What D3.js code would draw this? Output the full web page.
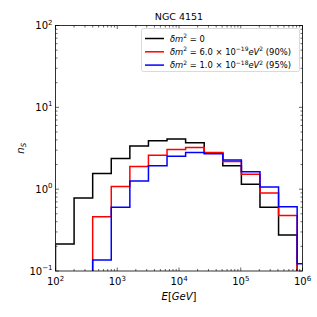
<!DOCTYPE html>
<html><head><meta charset="utf-8">
<script src="https://cdn.jsdelivr.net/npm/d3@7"></script>
<style>body{margin:0;background:#fff}svg{display:block}text{font-family:"DejaVu Sans",sans-serif}</style>
</head><body>
<script>
const binEdges = [100,200,400,800,1600,3200,6400,12800,25600,51200,102400,204800,409600,819200,1638400];
const seriesBlack = [0.214,0.78,1.55,2.37,3.36,3.9,4.1,3.69,2.76,1.93,1.15,0.6,0.275,0.05];
const seriesRed   = [0,0,0.46,1.08,1.89,2.6,3.06,3.23,2.8,2.18,1.52,0.9,0.475,0.06];
const seriesBlue  = [0,0,0.136,0.6,1.26,1.93,2.53,2.8,2.7,2.28,1.63,1.06,0.61,0.123];
const xTickVals = [1e2,1e3,1e4,1e5,1e6];
const xTickExp = ["2","3","4","5","6"];
const yTickVals = [1e-1,1e0,1e1,1e2];
const yTickExp = ["\u22121","0","1","2"];
const seriesColors = ["#000000","#ff0000","#0000ff"];

const W=317,H=317, L=55.5, R=302.5, T=25.5, B=271;
const svg=d3.select("body").append("svg").attr("width",W).attr("height",H);
const x=d3.scaleLog().domain([1e2,1e6]).range([L,R]);
const y=d3.scaleLog().domain([1e-1,1e2]).range([B,T]);

svg.append("clipPath").attr("id","clip").append("rect").attr("x",L).attr("y",T).attr("width",R-L).attr("height",B-T);

function stepPath(vals){
  const yb=B+20;
  const yv=v=> v>0 ? Math.min(y(v),B+20) : yb;
  let p="M"+x(binEdges[0])+","+yb;
  vals.forEach((v,i)=>{
    p+="L"+x(binEdges[i])+","+yv(v)+"L"+x(binEdges[i+1])+","+yv(v);
  });
  p+="L"+x(binEdges[binEdges.length-1])+","+yb;
  return p;
}
const g=svg.append("g").attr("clip-path","url(#clip)");
[seriesBlack,seriesRed,seriesBlue].forEach((s,i)=>{
  g.append("path").attr("d",stepPath(s)).attr("fill","none").attr("stroke",seriesColors[i]).attr("stroke-width",1.5).attr("stroke-linejoin","miter");
});

// frame
svg.append("rect").attr("x",L).attr("y",T).attr("width",R-L).attr("height",B-T).attr("fill","none").attr("stroke","#000").attr("stroke-width",0.8);

// ticks
function minors(lo,hi){const a=[];for(let e=lo;e<hi;e++)for(let k=2;k<=9;k++)a.push(k*Math.pow(10,e));return a;}
const tg=svg.append("g").attr("stroke","#000").attr("stroke-width",0.6);
const majL=3.5,minL=2;
xTickVals.forEach(v=>{const X=x(v);
  tg.append("line").attr("x1",X).attr("x2",X).attr("y1",B).attr("y2",B-majL);
  tg.append("line").attr("x1",X).attr("x2",X).attr("y1",T).attr("y2",T+majL);});
minors(2,6).forEach(v=>{const X=x(v);
  tg.append("line").attr("x1",X).attr("x2",X).attr("y1",B).attr("y2",B-minL);
  tg.append("line").attr("x1",X).attr("x2",X).attr("y1",T).attr("y2",T+minL);});
yTickVals.forEach(v=>{const Y=y(v);
  tg.append("line").attr("x1",L).attr("x2",L+majL).attr("y1",Y).attr("y2",Y);
  tg.append("line").attr("x1",R).attr("x2",R-majL).attr("y1",Y).attr("y2",Y);});
minors(-1,2).forEach(v=>{const Y=y(v);
  tg.append("line").attr("x1",L).attr("x2",L+minL).attr("y1",Y).attr("y2",Y);
  tg.append("line").attr("x1",R).attr("x2",R-minL).attr("y1",Y).attr("y2",Y);});

// tick labels
xTickVals.forEach((v,i)=>{
  const t=svg.append("text").attr("x",x(v)).attr("y",B+14).attr("text-anchor","middle").attr("font-size",10);
  t.append("tspan").text("10");
  t.append("tspan").attr("dy",-4.5).attr("font-size",7).text(xTickExp[i]);
});
yTickVals.forEach((v,i)=>{
  const t=svg.append("text").attr("x",L-3).attr("y",y(v)+3.5).attr("text-anchor","end").attr("font-size",10);
  t.append("tspan").text("10");
  t.append("tspan").attr("dy",-4.5).attr("font-size",7).text(yTickExp[i]);
});

// labels
svg.append("text").attr("x",(L+R)/2).attr("y",20).attr("text-anchor","middle").attr("font-size",9.5).text("NGC 4151");
const xl=svg.append("text").attr("x",(L+R)/2).attr("y",300).attr("text-anchor","middle").attr("font-size",10);
xl.append("tspan").attr("font-style","italic").text("E");
xl.append("tspan").text("[");
xl.append("tspan").attr("font-style","italic").text("GeV");
xl.append("tspan").text("]");
const yl=svg.append("text").attr("transform","translate(24,"+((T+B)/2)+") rotate(-90)").attr("text-anchor","middle").attr("font-size",10);
yl.append("tspan").attr("font-style","italic").text("n");
yl.append("tspan").attr("font-style","italic").attr("font-size",7).attr("dy",2).text("S");

// legend
const lg=svg.append("g");
lg.append("rect").attr("x",141.5).attr("y",28.5).attr("width",158).attr("height",43).attr("rx",2).attr("fill","#fff").attr("fill-opacity",0.8).attr("stroke","#d0d0d0").attr("stroke-width",0.8);
const rows=[
  {c:seriesColors[0], parts:[["δm","i"],["2","sup"],[" = 0",""]]},
  {c:seriesColors[1], parts:[["δm","i"],["2","sup"],[" = 6.0 × 10",""],["\u221219","sup"],["eV","i"],["2","sup"],[" (90%)",""]]},
  {c:seriesColors[2], parts:[["δm","i"],["2","sup"],[" = 1.0 × 10",""],["\u221218","sup"],["eV","i"],["2","sup"],[" (95%)",""]]}
];
rows.forEach((r,i)=>{
  const yy=38.5+i*13.3;
  lg.append("line").attr("x1",145).attr("x2",164).attr("y1",yy).attr("y2",yy).attr("stroke",r.c).attr("stroke-width",1.5);
  const t=lg.append("text").attr("x",170).attr("y",yy+3).attr("font-size",8.4);
  let up=false;
  r.parts.forEach(p=>{
    const s=t.append("tspan").text(p[0]);
    if(p[1]==="i") s.attr("font-style","italic");
    if(p[1]==="sup"){s.attr("font-size",6).attr("dy",-3.4);up=true;}
    else if(up){s.attr("dy",3.4);up=false;}
  });
});
</script>
</body></html>
